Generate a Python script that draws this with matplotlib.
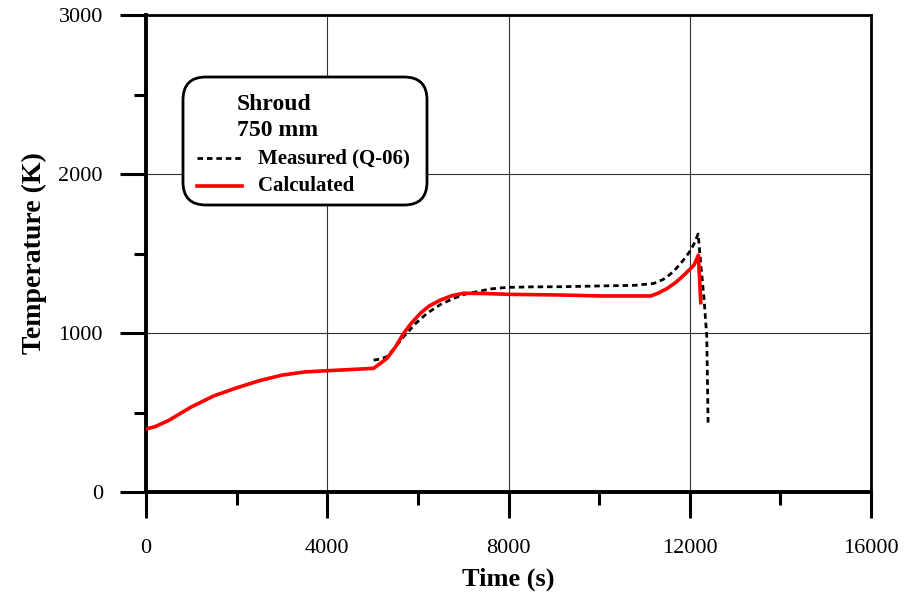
import matplotlib
matplotlib.use('Agg')
import matplotlib.pyplot as plt
from matplotlib.patches import FancyBboxPatch
from matplotlib.lines import Line2D
from matplotlib.ticker import MultipleLocator

# measured thermocouple Q-06 (shroud, 750 mm)
meas_t = [5024, 5150, 5319, 5500, 5686, 5950, 6203, 6500, 6791, 7050, 7307,
          7600, 7971, 8500, 9149, 10033, 10800, 11211, 11400, 11506, 11650,
          11801, 11920, 12022, 12110, 12185, 12229, 12317, 12376, 12405]
meas_T = [830, 835, 851, 910, 977, 1060, 1124, 1180, 1218, 1245, 1260,
          1277, 1287, 1290, 1291, 1296, 1300, 1312, 1335, 1354, 1390,
          1438, 1480, 1522, 1570, 1623, 1480, 1207, 977, 432]

# calculated
calc_t = [0, 200, 500, 1000, 1500, 2000, 2500, 3000, 3500, 4000, 4500, 5024,
          5200, 5319, 5500, 5686, 5850, 6055, 6250, 6497, 6750, 7012, 7500,
          8044, 9149, 10033, 11138, 11300, 11506, 11700, 11874, 12000, 12095,
          12190, 12243]
calc_T = [396, 411, 450, 535, 605, 655, 700, 735, 755, 763, 770, 778,
          815, 841, 910, 998, 1060, 1124, 1170, 1207, 1235, 1250, 1248,
          1243, 1239, 1233, 1233, 1250, 1281, 1320, 1365, 1400, 1428,
          1490, 1191]

xticks = [0, 4000, 8000, 12000, 16000]
yticks = [0, 1000, 2000, 3000]

plt.rcParams['font.family'] = ['Liberation Serif', 'DejaVu Serif']

W, H = 916, 592
fig = plt.figure(figsize=(W / 100, H / 100), dpi=100)
ax = fig.add_axes([146 / W, 1 - 492 / H, 725 / W, 477 / H])

ax.plot(meas_t, meas_T, color='black', lw=2.0, ls=(0, (2.0, 1.4)), zorder=3)
ax.plot(calc_t, calc_T, color='#ff0000', lw=2.6, zorder=4)

ax.set_xlim(0, 16000)
ax.set_ylim(0, 3000)
ax.set_xticks(xticks)
ax.set_yticks(yticks)
ax.xaxis.set_minor_locator(MultipleLocator(2000))
ax.yaxis.set_minor_locator(MultipleLocator(500))
ax.grid(True, which='major', color='#333333', lw=0.8)
ax.set_axisbelow(True)

ax.tick_params(axis='x', which='major', direction='out', length=19, width=2.2,
               labelsize=16, pad=15)
ax.tick_params(axis='y', which='major', direction='out', length=19, width=2.2,
               labelsize=16, pad=12)
ax.tick_params(axis='both', which='minor', direction='out', length=9, width=2.2)
for s in ['left', 'bottom']:
    ax.spines[s].set_linewidth(2.8)
for s in ['top', 'right']:
    ax.spines[s].set_linewidth(2.0)

ax.set_xlabel('Time (s)', fontsize=19, fontweight='bold', labelpad=7)
ax.set_ylabel('Temperature (K)', fontsize=20, fontweight='bold', labelpad=8)

# legend box drawn by hand
box = FancyBboxPatch((183 / W, 1 - 205 / H), 244 / W, 128 / H,
                     boxstyle='round,pad=0,rounding_size=0.025',
                     transform=fig.transFigure, facecolor='white',
                     edgecolor='black', lw=2.0, mutation_aspect=W / H, zorder=10)
fig.patches.append(box)
fig.text(237 / W, 1 - 104 / H, 'Shroud', fontsize=17, fontweight='bold',
         va='center', ha='left', zorder=11)
fig.text(237 / W, 1 - 130 / H, '750 mm', fontsize=17, fontweight='bold',
         va='center', ha='left', zorder=11)
fig.lines.append(Line2D([197 / W, 242 / W], [1 - 158 / H, 1 - 158 / H],
                        transform=fig.transFigure, color='black', lw=2.0,
                        ls=(0, (2.0, 1.4)), zorder=11))
fig.lines.append(Line2D([197 / W, 242 / W], [1 - 186 / H, 1 - 186 / H],
                        transform=fig.transFigure, color='#ff0000', lw=2.6, zorder=11))
fig.text(258 / W, 1 - 158 / H, 'Measured (Q-06)', fontsize=15, fontweight='bold',
         va='center', ha='left', zorder=11)
fig.text(258 / W, 1 - 186 / H, 'Calculated', fontsize=15, fontweight='bold',
         va='center', ha='left', zorder=11)

fig.savefig('out.png', dpi=100)
